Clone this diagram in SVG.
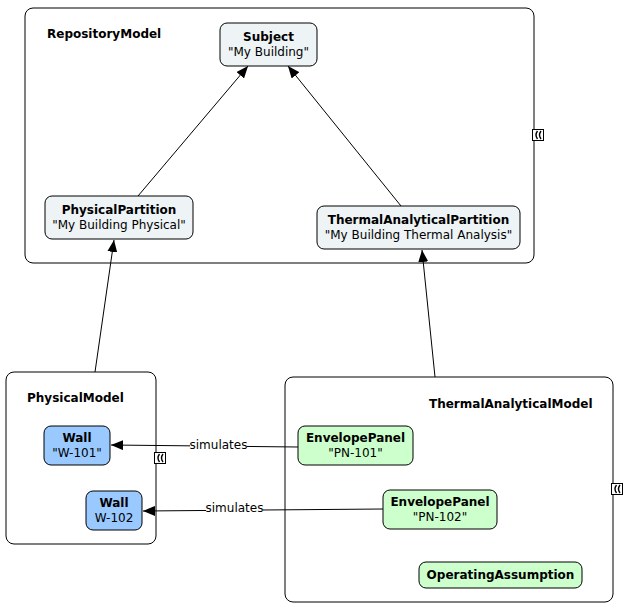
<svg xmlns="http://www.w3.org/2000/svg" width="631" height="609" viewBox="0 0 631 609">
<defs>
<style>
text{font-family:"DejaVu Sans","Liberation Sans",sans-serif;font-size:12px;fill:#000}
.b{font-weight:bold}
.c{text-anchor:middle}
.cont{fill:#fff;stroke:#000;stroke-width:1}
.part{fill:#eef4f6;stroke:#000;stroke-width:1}
.wall{fill:#99c9ff;stroke:#000;stroke-width:1}
.green{fill:#ccffcc;stroke:#000;stroke-width:1}
.edge{fill:none;stroke:#000;stroke-width:1}
.icon{fill:#fff;stroke:#000;stroke-width:1}
.chev{fill:none;stroke:#000;stroke-width:1.4}
.lbl{fill:#fff}
</style>
<marker id="arr" viewBox="0 0 12 10" refX="12" refY="5" markerWidth="12" markerHeight="10" markerUnits="userSpaceOnUse" orient="auto">
<path d="M0,0 L12,5 L0,10 Z" fill="#000"/>
</marker>
<g id="expIcon">
<rect class="icon" x="0.5" y="0.5" width="11" height="11"/>
<path class="chev" d="M5.5,2 Q2.5,6 5.5,10 M9,2 Q6,6 9,10"/>
</g>
</defs>

<g id="RepositoryModel">
<rect class="cont" x="25" y="8" width="509" height="255" rx="8"/>
<text class="b" x="47" y="38">RepositoryModel</text>
<use href="#expIcon" x="532" y="129"/>
</g>

<g id="PhysicalModel">
<rect class="cont" x="6" y="372" width="150" height="172" rx="8"/>
<text class="b" x="27" y="402">PhysicalModel</text>
<use href="#expIcon" x="154" y="452"/>
</g>

<g id="ThermalAnalyticalModel">
<rect class="cont" x="285" y="377" width="328" height="225" rx="8"/>
<text class="b" x="429" y="408">ThermalAnalyticalModel</text>
<use href="#expIcon" x="611" y="483"/>
</g>

<g id="Subject">
<rect class="part" x="220" y="23" width="97" height="43" rx="7"/>
<text class="b c" x="268.5" y="41">Subject</text>
<text class="c" x="268.5" y="56">"My Building"</text>
</g>

<g id="PhysicalPartition">
<rect class="part" x="45" y="196" width="148" height="43" rx="7"/>
<text class="b c" x="119" y="214">PhysicalPartition</text>
<text class="c" x="119" y="229">"My Building Physical"</text>
</g>

<g id="ThermalAnalyticalPartition">
<rect class="part" x="317" y="206" width="203" height="43" rx="7"/>
<text class="b c" x="418.5" y="224">ThermalAnalyticalPartition</text>
<text class="c" x="418.5" y="239">"My Building Thermal Analysis"</text>
</g>

<g id="Wall_W101">
<rect class="wall" x="44" y="426" width="66" height="39" rx="7"/>
<text class="b c" x="77" y="442">Wall</text>
<text class="c" x="77" y="457">"W-101"</text>
</g>

<g id="Wall_W102">
<rect class="wall" x="86" y="491" width="56" height="39" rx="7"/>
<text class="b c" x="114" y="507">Wall</text>
<text class="c" x="114" y="522">W-102</text>
</g>

<g id="EnvelopePanel_PN101">
<rect class="green" x="298" y="426" width="115" height="39" rx="7"/>
<text class="b c" x="355.5" y="442">EnvelopePanel</text>
<text class="c" x="355.5" y="457">"PN-101"</text>
</g>

<g id="EnvelopePanel_PN102">
<rect class="green" x="383" y="490" width="114" height="39" rx="7"/>
<text class="b c" x="440" y="506">EnvelopePanel</text>
<text class="c" x="440" y="521">"PN-102"</text>
</g>

<g id="OperatingAssumption">
<rect class="green" x="419" y="562" width="163" height="26" rx="7"/>
<text class="b c" x="500.5" y="579">OperatingAssumption</text>
</g>

<g id="connectors">
<line class="edge" x1="138" y1="196" x2="248" y2="66" marker-end="url(#arr)"/>
<line class="edge" x1="401" y1="206" x2="288" y2="66" marker-end="url(#arr)"/>
<line class="edge" x1="95" y1="372" x2="114" y2="240" marker-end="url(#arr)"/>
<line class="edge" x1="435" y1="377" x2="422" y2="250" marker-end="url(#arr)"/>
<line class="edge" x1="298" y1="447" x2="111" y2="445" marker-end="url(#arr)"/>
<rect class="lbl" x="190" y="438" width="57" height="14"/>
<text class="c" x="218.5" y="449">simulates</text>
<line class="edge" x1="383" y1="509" x2="143" y2="511" marker-end="url(#arr)"/>
<rect class="lbl" x="206" y="501" width="57" height="14"/>
<text class="c" x="234.5" y="512">simulates</text>
</g>
</svg>
